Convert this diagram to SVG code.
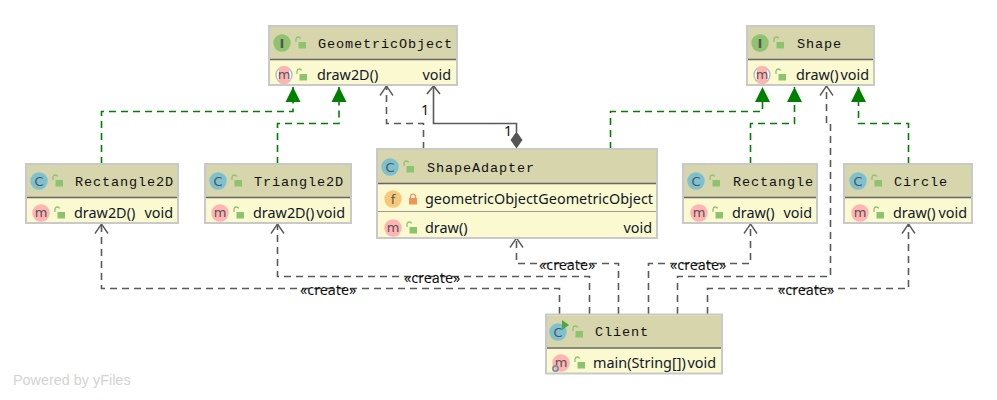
<svg xmlns="http://www.w3.org/2000/svg" width="997" height="400" viewBox="0 0 997 400">
<style>
.box{fill:#fbf9d0;stroke:#c9c9c9;stroke-width:2}
.hdr{fill:#d6d5ab}
.div{stroke:#666;stroke-width:1.5;fill:none}
.div2{stroke:#999;stroke-width:1;fill:none}
.name{font-family:"Liberation Mono",monospace;font-size:13.5px;letter-spacing:.9px;fill:#111}
.mem{font-family:"Noto Sans",sans-serif;font-size:14.4px;fill:#10182a}
.end{text-anchor:end}
.lab{font-family:"Noto Sans",sans-serif;font-size:14.3px;fill:#111}
.ic{font-family:"DejaVu Sans",sans-serif;font-size:13px;fill:#555;text-anchor:middle}
.real{fill:none;stroke:#008000;stroke-width:1.6;stroke-dasharray:7 5;marker-end:url(#tri)}
.dep{fill:none;stroke:#5a5a5a;stroke-width:1.6;stroke-dasharray:7 5;marker-end:url(#open)}
.assoc{fill:none;stroke:#5a5a5a;stroke-width:1.6}
</style>
<defs>
<marker id="tri" markerUnits="userSpaceOnUse" markerWidth="18" markerHeight="18" refX="15" refY="8" orient="auto"><path d="M0,0.5 L15,8 L0,15.5 Z" fill="#008000"/></marker>
<marker id="open" markerUnits="userSpaceOnUse" markerWidth="14" markerHeight="16" refX="11" refY="8" orient="auto"><path d="M1.5,1.5 L11,8 L1.5,14.5" fill="none" stroke="#5a5a5a" stroke-width="1.4"/></marker>
<g id="lock"><path d="M-5,-1 V-4 A2.4,2.4 0 0 1 -0.4,-4.5" fill="none" stroke="#8cc46e" stroke-width="1.3"/><rect x="-2.5" y="-1" width="7.5" height="6.5" fill="#8cc46e"/></g>
<g id="lockp"><path d="M-2.5,-1 V-3 A2.6,2.6 0 0 1 2.5,-3 V-1" fill="none" stroke="#f0955a" stroke-width="1.4"/><rect x="-4" y="-1" width="8" height="6.5" fill="#f0955a"/></g>
<g id="cI"><circle r="8.7" fill="#7dc0cf"/><text class="ic" y="4.7">C</text></g>
<g id="iI"><circle r="8.7" fill="#90c36f"/><text class="ic" y="4.7" font-weight="bold">I</text></g>
<g id="mI"><circle r="8.7" fill="#ffb3b3"/><text class="ic" y="4">m</text></g>
<g id="aI"><circle r="8" fill="#fff" stroke="#bbb" stroke-width="1.4"/><rect x="-5" y="-8.7" width="10" height="17.4" rx="3" fill="#ffb3b3"/><text class="ic" y="4">m</text></g>
<g id="fI"><circle r="8.7" fill="#f6c878"/><text class="ic" y="4.5">f</text></g>
</defs>
<rect width="997" height="400" fill="#fff"/>
<g id="connectors">
<path class="real" d="M101.5,164 V111.5 H293 V87"/>
<path class="real" d="M277.5,164 V123.5 H339 V87"/>
<path class="real" d="M610.5,149 V111.5 H762.5 V87"/>
<path class="real" d="M750.5,164 V123.5 H794.5 V87"/>
<path class="real" d="M908.5,164 V123.5 H858.5 V87"/>
<path class="dep" d="M423.5,149 V123.5 H386.5 V86"/>
<path class="assoc" d="M433.5,87 V123.5 H516.5 V132"/>
<path class="assoc" d="M427,94 L433.5,86 L440,94"/>
<path d="M516.5,131.5 L522.5,140 L516.5,148.5 L510.5,140 Z" fill="#555"/>
<path class="dep" d="M559.5,314 V288.5 H101.5 V224"/>
<path class="dep" d="M589.5,314 V276.5 H277.5 V224"/>
<path class="dep" d="M618.5,314 V263.5 H516.5 V238"/>
<path class="dep" d="M648.5,314 V263.5 H750.5 V224"/>
<path class="dep" d="M677.5,314 V276.5 H830.5 V123.5 H826.5 V86"/>
<path class="dep" d="M707.5,314 V288.5 H908.5 V224"/>
<text class="lab" x="421" y="115">1</text>
<text class="lab" x="504" y="136">1</text>
<text class="lab" x="300" y="295">«create»</text>
<text class="lab" x="404" y="283">«create»</text>
<text class="lab" x="539" y="270">«create»</text>
<text class="lab" x="670" y="270">«create»</text>
<text class="lab" x="778" y="295">«create»</text>
</g>
<g id="GeometricObject">
<rect class="box" x="269" y="26" width="188" height="59"/><rect class="hdr" x="270" y="27" width="186" height="32"/><path class="div" d="M270,59.5 H456"/>
<use href="#iI" x="282" y="43"/><use href="#lock" x="301" y="43"/><text class="name" x="318" y="48">GeometricObject</text>
<use href="#aI" x="284" y="75"/><use href="#lock" x="302" y="75"/><text class="mem" x="317" y="80">draw2D()</text><text class="mem end" x="451" y="80">void</text>
</g>
<g id="Shape">
<rect class="box" x="747" y="26" width="127" height="59"/><rect class="hdr" x="748" y="27" width="125" height="32"/><path class="div" d="M748,59.5 H873"/>
<use href="#iI" x="760" y="43"/><use href="#lock" x="779" y="43"/><text class="name" x="797" y="48">Shape</text>
<use href="#aI" x="762" y="75"/><use href="#lock" x="781" y="75"/><text class="mem" x="796" y="80">draw()</text><text class="mem end" x="869" y="80">void</text>
</g>
<g id="Rectangle2D">
<rect class="box" x="26" y="164" width="152" height="59"/><rect class="hdr" x="27" y="165" width="150" height="32"/><path class="div" d="M27,197.5 H177"/>
<use href="#cI" x="39" y="181"/><use href="#lock" x="58" y="181"/><text class="name" x="75" y="186">Rectangle2D</text>
<use href="#mI" x="41" y="213"/><use href="#lock" x="60" y="213"/><text class="mem" x="74" y="218">draw2D()</text><text class="mem end" x="173" y="218">void</text>
</g>
<g id="Triangle2D">
<rect class="box" x="205" y="164" width="146" height="59"/><rect class="hdr" x="206" y="165" width="144" height="32"/><path class="div" d="M206,197.5 H350"/>
<use href="#cI" x="218" y="181"/><use href="#lock" x="237" y="181"/><text class="name" x="254" y="186">Triangle2D</text>
<use href="#mI" x="220" y="213"/><use href="#lock" x="239" y="213"/><text class="mem" x="253" y="218">draw2D()</text><text class="mem end" x="345" y="218">void</text>
</g>
<g id="ShapeAdapter">
<rect class="box" x="377" y="149" width="280" height="89"/><rect class="hdr" x="378" y="150" width="278" height="33"/><path class="div" d="M378,183.5 H656"/><path class="div2" d="M378,211.5 H656"/>
<use href="#cI" x="390" y="167"/><use href="#lock" x="409" y="167"/><text class="name" x="427" y="172">ShapeAdapter</text>
<use href="#fI" x="393" y="199"/><use href="#lockp" x="413" y="199"/><text class="mem" x="425" y="204">geometricObject</text><text class="mem end" x="653" y="204">GeometricObject</text>
<use href="#mI" x="393" y="228"/><use href="#lock" x="412" y="228"/><text class="mem" x="425" y="233">draw()</text><text class="mem end" x="652" y="233">void</text>
</g>
<g id="Rectangle">
<rect class="box" x="683" y="164" width="134" height="59"/><rect class="hdr" x="684" y="165" width="132" height="32"/><path class="div" d="M684,197.5 H816"/>
<use href="#cI" x="696" y="181"/><use href="#lock" x="715" y="181"/><text class="name" x="733" y="186">Rectangle</text>
<use href="#mI" x="699" y="213"/><use href="#lock" x="718" y="213"/><text class="mem" x="732" y="218">draw()</text><text class="mem end" x="812" y="218">void</text>
</g>
<g id="Circle">
<rect class="box" x="844" y="164" width="128" height="59"/><rect class="hdr" x="845" y="165" width="126" height="32"/><path class="div" d="M845,197.5 H971"/>
<use href="#cI" x="858" y="181"/><use href="#lock" x="877" y="181"/><text class="name" x="894" y="186">Circle</text>
<use href="#mI" x="860" y="213"/><use href="#lock" x="879" y="213"/><text class="mem" x="893" y="218">draw()</text><text class="mem end" x="967" y="218">void</text>
</g>
<g id="Client">
<rect class="box" x="546" y="314.5" width="176" height="59"/><rect class="hdr" x="547" y="315.5" width="174" height="32"/><path class="div" d="M547,348 H721"/>
<use href="#cI" x="558" y="332"/><path d="M562,320 L569,325 L562,330 Z" fill="#4fa83d"/><use href="#lock" x="578" y="332"/><text class="name" x="595" y="336">Client</text>
<use href="#mI" x="561" y="363"/><circle cx="555.5" cy="368.5" r="2.6" fill="none" stroke="#7d8fa3" stroke-width="1.8"/><use href="#lock" x="580" y="363"/><text class="mem" x="593" y="368">main(String[])</text><text class="mem end" x="716" y="368">void</text>
</g>
<text x="13" y="385" font-family="Liberation Sans, sans-serif" font-size="14.4" fill="#d3d3d3">Powered by yFiles</text>
</svg>
